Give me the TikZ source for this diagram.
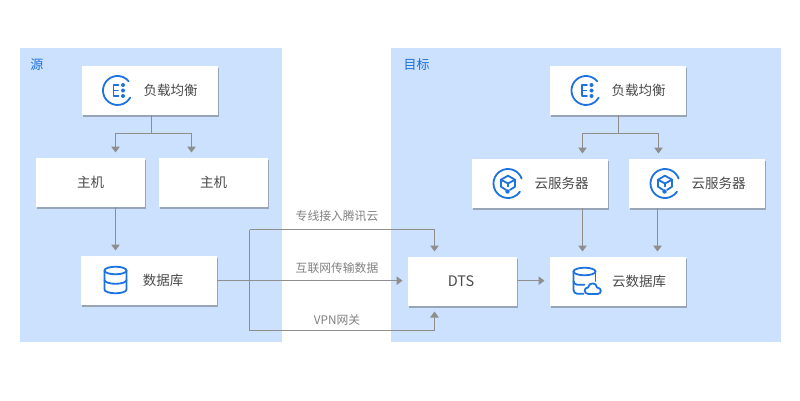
\documentclass[tikz,border=0pt]{standalone}
\usepackage{fontspec}
\setmainfont{Noto Sans CJK SC}
\usetikzlibrary{arrows.meta,shadows,calc}
\definecolor{panel}{HTML}{CCE1FD}
\definecolor{iconblue}{HTML}{1C72DE}
\definecolor{linegray}{HTML}{8E8E8E}
\definecolor{labelgray}{HTML}{808080}
\definecolor{textgray}{HTML}{4A4A4A}
\tikzset{
  panelbox/.style={fill=panel,draw=none,anchor=north west,inner sep=0pt},
  cardbox/.style={fill=white,draw=none,inner sep=0pt,anchor=north west,
    drop shadow={shadow xshift=1pt,shadow yshift=-1.5pt,opacity=.4,fill=black!70}},
  cardtext/.style={font=\fontsize{13.5}{15}\selectfont,text=textgray,inner sep=0pt},
  edgelabel/.style={font=\fontsize{11.8}{14}\selectfont,text=labelgray,inner sep=0pt},
  paneltitle/.style={font=\fontsize{13}{15}\selectfont,text=iconblue,inner sep=0pt},
  link/.style={draw=linegray,line width=1.2pt},
  arrowlink/.style={link,-{Triangle[length=6pt,width=8.5pt]},shorten >=5.5pt},
  iconline/.style={draw=iconblue,line width=1.8pt,line cap=round,line join=round},
  icondot/.style={fill=iconblue,draw=none},
  iconframe/.style={shift={(#1)},x=1pt,y=1pt}
}
\newcommand{\lbicon}[1]{%
  \begin{scope}[iconframe={#1}]
    \draw[iconline] (40:14.5) arc (40:331:14.5);
    \draw[iconline,line width=1.9pt] (1,5.5) -- (-4,5.5) -- (-4,-5.5) -- (1,-5.5) (-4,0) -- (0.5,0);
    \fill[icondot] (5.5,5.5) circle (2) (5.5,0) circle (2) (5.5,-5.5) circle (2);
  \end{scope}}
\newcommand{\cvmicon}[1]{%
  \begin{scope}[iconframe={#1}]
    \draw[iconline] (20:14.5) arc (20:325:14.5);
    \draw[iconline] (-2,-6.4) -- (-7,-3.2) -- (-7,3.8) -- (0,7.8) -- (7,3.8) -- (7,-3.2) -- (2,-6.4);
    \draw[iconline] (-7,3.8) -- (0,0) -- (7,3.8) (0,0) -- (0,-3);
    \fill[icondot] (-0.5,-8) circle (2.2);
  \end{scope}}
\newcommand{\dbicon}[1]{%
  \begin{scope}[iconframe={#1}]
    \draw[iconline] (0,9.5) ellipse (11 and 3.8);
    \draw[iconline] (-11,9.5) -- (-11,-9.5) arc (180:360:11 and 3.8) -- (11,9.5);
    \draw[iconline] (-11,0) arc (180:360:11 and 3.8);
  \end{scope}}
\newcommand{\clouddbicon}[1]{%
  \begin{scope}[iconframe={#1}]
    \draw[iconline] (0,9.5) ellipse (11 and 3.8);
    \draw[iconline] (-11,9.5) -- (-11,-9) arc (180:270:3.8) -- (-1,-12.8);
    \draw[iconline] (11,9.5) -- (11,0);
    \draw[iconline] (-11,0) arc (180:270:3.8) -- (0,-3.8);
    \draw[iconline,fill=white] (4,-13) .. controls (-1,-13) and (-1,-6.5) .. (3.5,-6.5)
      .. controls (4.5,-1) and (12,-1) .. (12.5,-6.5)
      .. controls (17.5,-6.5) and (17.5,-13) .. (13,-13) -- cycle;
  \end{scope}}
\begin{document}
\begin{tikzpicture}[x=1pt,y=-1pt]
\useasboundingbox (0,0) rectangle (800,400);
% panels
\node[panelbox,minimum width=262pt,minimum height=294pt] (srcpanel) at (20,48) {};
\node[panelbox,minimum width=390pt,minimum height=294pt] (dstpanel) at (391,48) {};
\node[paneltitle] (srctitle) at (37,64.5) {源};
\node[paneltitle] (dsttitle) at (416.5,64.5) {目标};
% cards
\node[cardbox,minimum width=136pt,minimum height=49pt] (lbA) at (82,66) {};
\node[cardbox,minimum width=109pt,minimum height=49pt] (hostA) at (36,158) {};
\node[cardbox,minimum width=109pt,minimum height=49pt] (hostB) at (159,158) {};
\node[cardbox,minimum width=136pt,minimum height=49pt] (dbA) at (81,256) {};
\node[cardbox,minimum width=109pt,minimum height=49pt] (dts) at (408,257) {};
\node[cardbox,minimum width=136pt,minimum height=49pt] (dbB) at (550,257) {};
\node[cardbox,minimum width=136pt,minimum height=49pt] (cvmA) at (472,159) {};
\node[cardbox,minimum width=136pt,minimum height=49pt] (cvmB) at (629,159) {};
\node[cardbox,minimum width=136pt,minimum height=49pt] (lbB) at (550,66) {};
% card texts
\node[cardtext] (tlbA) at (170.5,90.5) {负载均衡};
\node[cardtext] (thostA) at (90.5,182.5) {主机};
\node[cardtext] (thostB) at (213.5,182.5) {主机};
\node[cardtext] (tdbA) at (163,280.5) {数据库};
\node[cardtext,font=\fontsize{14.5}{16}\selectfont] (tdts) at (461,281) {DTS};
\node[cardtext] (tdbB) at (639,281.5) {云数据库};
\node[cardtext] (tcvmA) at (561.5,183.5) {云服务器};
\node[cardtext] (tcvmB) at (718.5,183.5) {云服务器};
\node[cardtext] (tlbB) at (638.5,90.5) {负载均衡};
% icons
\lbicon{117.5,90.5}
\lbicon{586,90.5}
\dbicon{115.5,280}
\clouddbicon{584.5,281}
\cvmicon{508,183.5}
\cvmicon{665,183.5}
% helper coordinates
\coordinate (splitA) at (151.5,133.5);
\coordinate (splitB) at (618.5,133.5);
\coordinate (trunkTop) at (249.5,229.5);
\coordinate (trunkBot) at (249.5,330.5);
% connectors
\draw[link] (lbA.south -| splitA) -- (splitA);
\draw[arrowlink] (splitA) -| (115.5,158);
\draw[arrowlink] (splitA) -| (191.5,158);
\draw[link] (lbB.south -| splitB) -- (splitB);
\draw[arrowlink] (splitB) -| (582.5,159);
\draw[arrowlink] (splitB) -| (658.5,159);
\draw[arrowlink] (115.5,207) -- (115.5,256);
\draw[arrowlink] (582.5,208) -- (582.5,257);
\draw[arrowlink] (657.5,208) -- (657.5,257);
\draw[arrowlink] (dbA.east) -- (dbA.east -| dts.west);
\draw[arrowlink] (dts.east |- dbA.east) -- (dbB.west |- dbA.east);
\draw[arrowlink] (trunkTop) -| (434.5,257);
\draw[arrowlink] (trunkBot) -| (434.5,306);
\draw[link] (trunkTop) -- (trunkBot);
% edge labels
\node[edgelabel] (l1) at (337,216) {专线接入腾讯云};
\node[edgelabel] (l2) at (337,268) {互联网传输数据};
\node[edgelabel] (l3) at (337,320) {VPN网关};
\end{tikzpicture}
\end{document}
